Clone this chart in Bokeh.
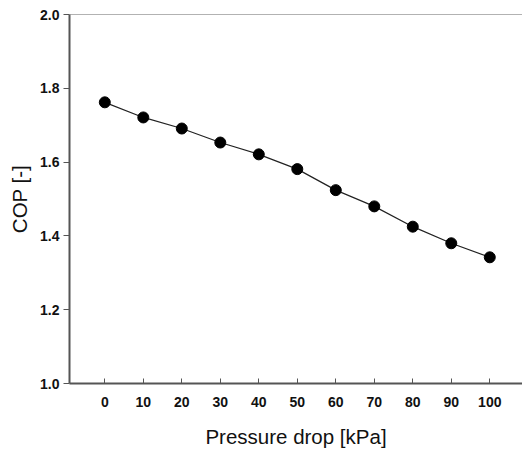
from bokeh.plotting import figure
from bokeh.models import Range1d, FixedTicker, Span, NumeralTickFormatter
from bokeh.embed import file_html
from bokeh.resources import INLINE

pressure_drop = [0, 10, 20, 30, 40, 50, 60, 70, 80, 90, 100]
cop = [1.762, 1.721, 1.691, 1.653, 1.621, 1.581, 1.524, 1.480, 1.425, 1.380, 1.342]
x_ticks = [0, 10, 20, 30, 40, 50, 60, 70, 80, 90, 100]
y_ticks = [1.0, 1.2, 1.4, 1.6, 1.8, 2.0]

p = figure(width=522, height=452, output_backend="svg", toolbar_location=None,
           x_range=Range1d(-9.17, 108.5), y_range=Range1d(1.0, 2.0),
           min_border_left=69, min_border_right=0, min_border_top=14, min_border_bottom=69)
p.outline_line_color = None
p.grid.visible = False
p.background_fill_color = "white"
p.border_fill_color = "white"

p.line(pressure_drop, cop, line_color="#222222", line_width=1.2)
p.scatter(pressure_drop, cop, size=11, fill_color="black", line_color="black")

p.add_layout(Span(location=2.0, dimension="width", line_color="#666666", line_width=1))

font = "Liberation Sans"
xa = p.xaxis[0]
xa.ticker = FixedTicker(ticks=x_ticks)
xa.minor_tick_line_color = None
xa.major_tick_in = 5
xa.major_tick_out = 0
xa.axis_line_width = 2
xa.axis_line_color = "#555555"
xa.major_tick_line_color = "#555555"
xa.major_label_text_font = font
xa.major_label_text_font_style = "bold"
xa.major_label_text_font_size = "14px"
xa.major_label_text_color = "#111111"
xa.major_label_standoff = 13
xa.axis_label = "Pressure drop [kPa]"
xa.axis_label_text_font = font
xa.axis_label_text_font_style = "normal"
xa.axis_label_text_font_size = "20.5px"
xa.axis_label_text_color = "#111111"
xa.axis_label_standoff = 15

ya = p.yaxis[0]
ya.ticker = FixedTicker(ticks=y_ticks)
ya.formatter = NumeralTickFormatter(format="0.0")
ya.minor_tick_line_color = None
ya.major_tick_in = 0
ya.major_tick_out = 6
ya.axis_line_width = 2
ya.axis_line_color = "#555555"
ya.major_tick_line_color = "#555555"
ya.major_label_text_font = font
ya.major_label_text_font_style = "bold"
ya.major_label_text_font_size = "14px"
ya.major_label_text_color = "#111111"
ya.major_label_standoff = 4
ya.axis_label = "COP [-]"
ya.axis_label_text_font = font
ya.axis_label_text_font_style = "normal"
ya.axis_label_text_font_size = "20.5px"
ya.axis_label_text_color = "#111111"
ya.axis_label_standoff = 6

open("out.html", "w").write(file_html(p, INLINE))
